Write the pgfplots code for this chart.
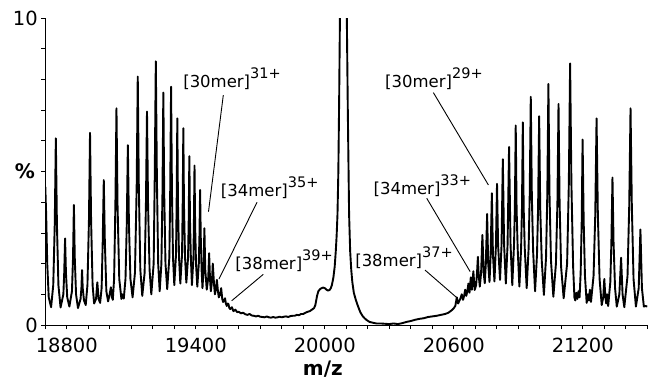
\documentclass[border=0pt]{standalone}
\usepackage{fontspec}
\setmainfont{DejaVu Sans}
\usepackage{pgfplots}
\pgfplotsset{compat=1.18}
\newcommand{\lab}[2]{[#1mer]\raisebox{9pt}{\fontsize{14.5}{16}\selectfont #2+}}
\begin{document}
\begin{tikzpicture}[font=\fontsize{19.5}{23}\selectfont]
\useasboundingbox (-45.3pt,-56pt) rectangle (604.7pt,325pt);
\begin{axis}[
 at={(0pt,0pt)}, anchor=south west,
 scale only axis, width=602pt, height=307pt,
 xmin=18700, xmax=21500, ymin=0, ymax=10,
 axis x line=bottom, axis y line=left, axis line style={-, line width=0.8pt},
 tick align=outside, major tick length=4pt, minor tick length=4pt,
 tick style={line width=0.8pt, black},
 xtick={18800,19400,20000,20600,21200},
 minor xtick={18700,18800,...,21500},
 scaled x ticks=false,
 xticklabel style={/pgf/number format/fixed, /pgf/number format/precision=0, yshift=-5pt},
 ytick={0,10}, minor ytick={1,...,9},
 /pgf/number format/assume math mode=true,
 /pgf/number format/set thousands separator={},
 tick label style={font=\fontsize{19.5}{23}\selectfont},
 xlabel={\textbf{m/z}},
 xlabel style={at={(axis description cs:0.461,-0.165)}, anchor=base, font=\bfseries\fontsize{20}{24}\selectfont},
 ylabel={\textbf{\%}},
 ylabel style={rotate=-90, at={(axis description cs:-0.0337,0.5)}, anchor=center, font=\bfseries\fontsize{20}{24}\selectfont},
 clip=true,
]
\addplot[black, line width=1.9pt, line join=round] table {
x y
18700 4.5
18704 3.6
18709 2.0
18716 0.9
18727 0.58
18737 1.3
18744 3.3
18749 6.08
18754 3.3
18761 1.3
18771 0.57
18784 1.0
18788 1.7
18792 2.82
18796 1.7
18802 0.9
18812 0.6
18824 1.1
18829 2.2
18833 3.91
18837 2.2
18843 1.0
18852 0.55
18864 0.85
18868 1.2
18871 1.79
18874 1.2
18880 0.8
18888 0.65
18896 1.3
18903 3.4
18908 6.26
18913 3.4
18920 1.3
18927 0.7
18936 0.85
18942 1.39
18948 0.85
18955 0.72
18962 1.2
18967 2.7
18972 4.72
18977 2.7
18984 1.1
18992 0.77
18998 0.95
19005 1.23
19010 0.9
19014 0.82
19020 1.5
19026 3.9
19031 7.06
19036 3.9
19044 1.5
19054 0.85
19060 1.0
19065 0.86
19073 1.5
19079 3.3
19084 5.86
19089 3.3
19096 1.5
19106 0.9
19117 1.7
19125 4.5
19130 8.09
19135 4.5
19142 1.8
19151 0.95
19162 1.7
19168 3.9
19173 6.95
19178 3.9
19185 1.8
19193 1.0
19204 2.0
19209 4.8
19214 8.59
19219 4.8
19225 2.0
19232 1.1
19240 2.0
19245 4.3
19249 7.57
19253 4.3
19259 2.0
19267 1.17
19277 2.2
19281 4.4
19285 7.76
19289 4.4
19294 2.2
19300 1.3
19308 2.3
19311 4.0
19314 6.73
19317 4.0
19322 2.2
19328 1.35
19336 2.3
19339 3.9
19342 6.41
19345 3.9
19350 2.2
19356 1.38
19364 2.2
19367 3.4
19370 5.50
19373 3.4
19377 2.2
19382 1.3
19389 2.2
19391 3.2
19394 5.19
19397 3.2
19401 2.0
19407 1.25
19414 2.0
19417 2.9
19420 4.4
19423 2.9
19427 1.8
19431 1.2
19436 1.8
19440 3.15
19444 1.8
19451 1.15
19458 1.55
19462 2.34
19466 1.5
19470 1.1
19475 1.4
19479 2.0
19485 1.3
19489 1.0
19494 1.2
19498 1.47
19503 1.1
19507 0.9
19513 1.0
19518 1.2
19523 0.85
19527 0.75
19532 0.8
19536 0.87
19540 0.7
19544 0.62
19549 0.7
19552 0.68
19556 0.55
19560 0.52
19568 0.58
19575 0.45
19584 0.5
19592 0.42
19600 0.43
19610 0.38
19620 0.4
19630 0.35
19640 0.33
19650 0.36
19660 0.31
19670 0.3
19680 0.28
19690 0.3
19700 0.27
19710 0.26
19720 0.25
19730 0.28
19740 0.25
19750 0.24
19760 0.26
19770 0.24
19780 0.25
19790 0.27
19800 0.25
19810 0.27
19820 0.28
19830 0.26
19840 0.29
19850 0.3
19860 0.3
19870 0.33
19880 0.32
19890 0.36
19900 0.36
19910 0.4
19920 0.43
19930 0.45
19940 0.5
19950 0.55
19956 0.65
19960 0.8
19964 0.95
19970 1.1
19978 1.17
19985 1.2
19992 1.22
20000 1.2
20008 1.15
20015 1.12
20022 1.14
20028 1.2
20033 1.3
20040 1.55
20046 1.9
20051 2.4
20055 2.9
20059 3.6
20063 5.0
20067 7.5
20071 10.5
20086 20
20102 10.3
20107 7.0
20113 3.6
20118 2.4
20123 1.8
20128 1.4
20135 1.05
20145 0.8
20155 0.6
20165 0.42
20175 0.3
20185 0.22
20195 0.16
20208 0.1
20220 0.08
20240 0.05
20260 0.05
20280 0.04
20300 0.03
20320 0.05
20340 0.03
20360 0.06
20380 0.1
20400 0.13
20420 0.17
20440 0.2
20460 0.22
20480 0.26
20500 0.28
20520 0.3
20540 0.33
20560 0.36
20575 0.4
20590 0.48
20600 0.55
20607 0.62
20614 0.9
20620 0.7
20630 0.85
20637 1.0
20643 0.82
20648 0.95
20653 1.15
20658 0.95
20663 1.1
20668 1.35
20673 1.05
20679 1.55
20684 1.15
20691 1.75
20697 1.14
20704 1.3
20708 1.7
20712 2.22
20716 1.6
20721 1.25
20727 1.7
20733 2.93
20739 1.7
20744 1.36
20749 2.0
20755 3.62
20760 2.0
20766 1.4
20771 2.2
20777 4.29
20782 2.3
20789 1.42
20796 2.6
20801 4.6
20806 2.6
20815 1.47
20822 2.6
20828 5.4
20834 2.6
20842 1.35
20850 2.6
20857 5.8
20864 2.6
20872 1.3
20880 2.6
20884 3.8
20888 6.5
20892 3.8
20897 2.5
20905 1.25
20913 2.5
20917 3.8
20921 6.6
20925 3.8
20930 2.5
20939 1.2
20948 2.5
20953 4.2
20958 7.43
20963 4.2
20969 2.4
20978 1.1
20987 2.3
20992 3.8
20997 6.8
21002 3.8
21009 2.1
21019 0.98
21029 2.2
21035 4.3
21040 7.85
21045 4.3
21052 2.1
21063 0.92
21075 2.0
21082 4.0
21087 7.2
21092 4.0
21099 1.9
21111 0.87
21127 2.0
21135 4.6
21141 8.52
21147 4.6
21155 1.9
21161 0.9
21165 0.8
21170 1.05
21175 0.85
21180 1.1
21185 0.9
21190 1.7
21195 3.4
21199 6.04
21204 3.4
21210 1.6
21218 0.72
21224 1.0
21228 0.8
21233 1.15
21238 0.75
21250 1.6
21258 3.6
21264 6.73
21270 3.6
21278 1.5
21288 0.65
21295 0.9
21300 1.5
21305 0.9
21309 0.7
21313 1.0
21318 0.62
21328 1.4
21333 2.7
21338 4.8
21343 2.7
21350 1.2
21358 0.6
21370 1.0
21378 2.19
21385 1.0
21393 0.58
21408 1.6
21416 3.9
21422 7.06
21428 3.9
21436 1.5
21447 0.6
21460 1.2
21468 3.11
21475 1.2
21484 0.6
21492 0.62
21500 0.6
};
\draw[line width=0.9pt] (axis cs:19528,7.49) -- (axis cs:19459,3.69);
\draw[line width=0.9pt] (axis cs:19685,4.0) -- (axis cs:19508,1.50);
\draw[line width=0.9pt] (axis cs:19714,1.65) -- (axis cs:19567,0.79);
\draw[line width=0.9pt] (axis cs:20505,7.57) -- (axis cs:20761,4.56);
\draw[line width=0.9pt] (axis cs:20474,4.13) -- (axis cs:20676,1.74);
\draw[line width=0.9pt] (axis cs:20466,1.79) -- (axis cs:20614,0.89);
\node[anchor=base west, inner sep=0pt, font=\fontsize{16.5}{19}\selectfont] at (axis cs:19341,7.75) {\lab{30}{31}};
\node[anchor=base west, inner sep=0pt, font=\fontsize{16.5}{19}\selectfont] at (axis cs:19516,4.17) {\lab{34}{35}};
\node[anchor=base west, inner sep=0pt, font=\fontsize{16.5}{19}\selectfont] at (axis cs:19583,1.81) {\lab{38}{39}};
\node[anchor=base west, inner sep=0pt, font=\fontsize{16.5}{19}\selectfont] at (axis cs:20280,7.75) {\lab{30}{29}};
\node[anchor=base west, inner sep=0pt, font=\fontsize{16.5}{19}\selectfont] at (axis cs:20226,4.26) {\lab{34}{33}};
\node[anchor=base west, inner sep=0pt, font=\fontsize{16.5}{19}\selectfont] at (axis cs:20141,1.92) {\lab{38}{37}};
\end{axis}
\end{tikzpicture}
\end{document}
